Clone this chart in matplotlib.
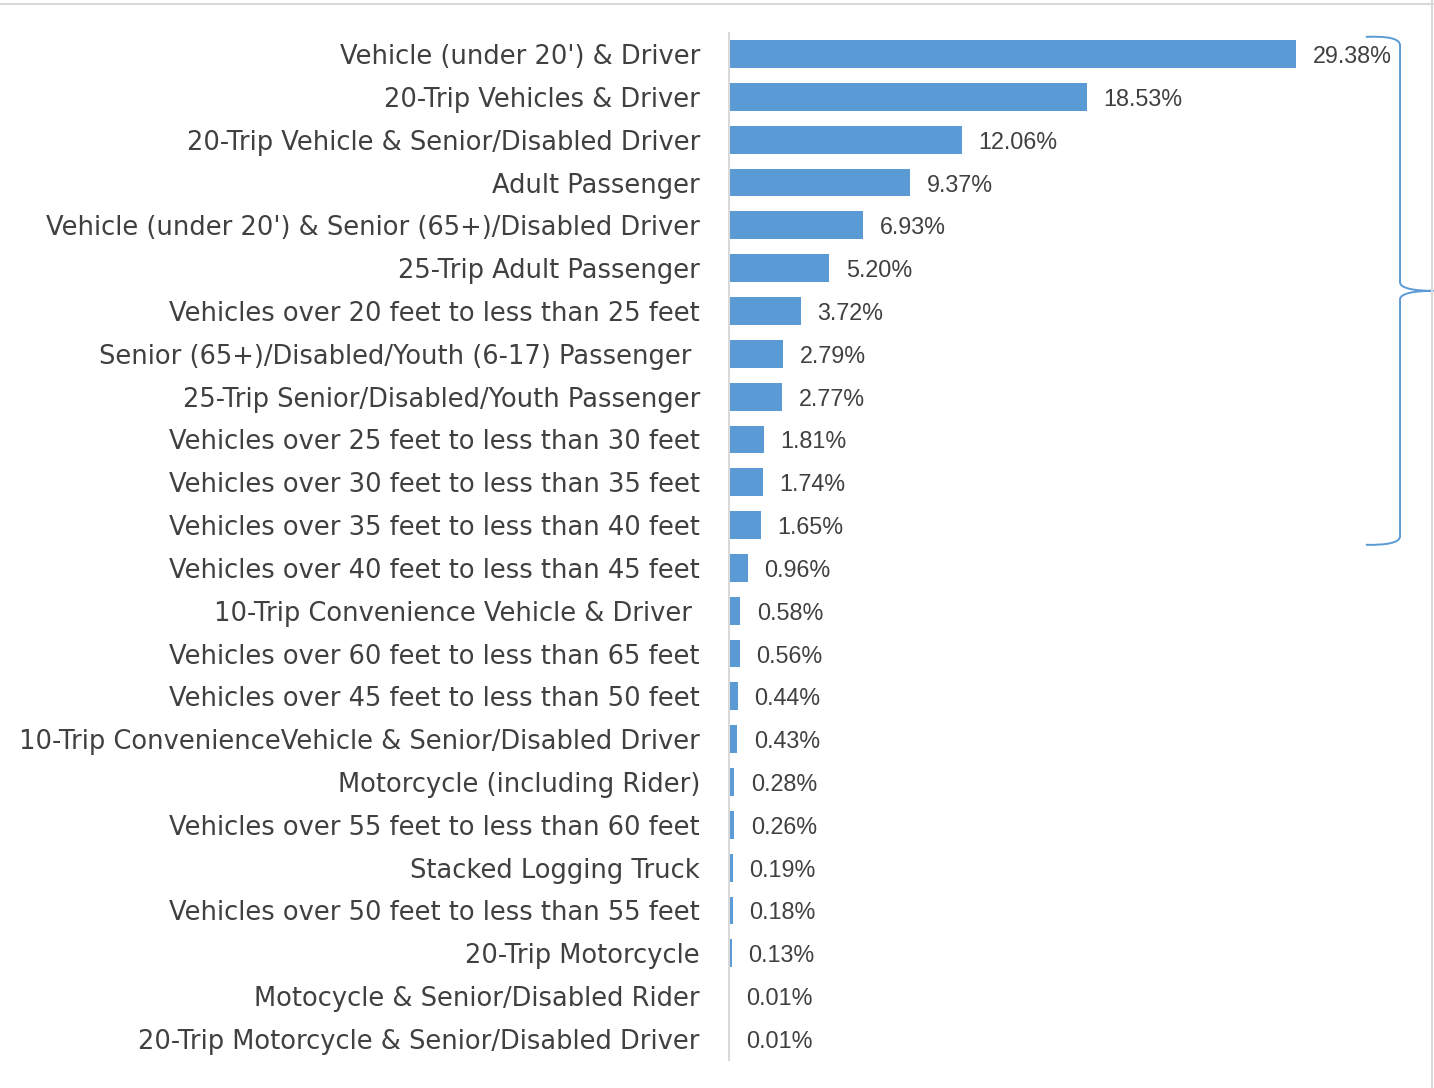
"""Horizontal bar chart of ticket type shares, with a brace over the top group."""
import matplotlib
matplotlib.use("Agg")
import matplotlib.pyplot as plt
from matplotlib.path import Path
from matplotlib.patches import PathPatch
from matplotlib.lines import Line2D

categories = [
    "Vehicle (under 20') & Driver",
    "20-Trip Vehicles & Driver",
    "20-Trip Vehicle & Senior/Disabled Driver",
    "Adult Passenger",
    "Vehicle (under 20') & Senior (65+)/Disabled Driver",
    "25-Trip Adult Passenger",
    "Vehicles over 20 feet to less than 25 feet",
    "Senior (65+)/Disabled/Youth (6-17) Passenger ",
    "25-Trip Senior/Disabled/Youth Passenger",
    "Vehicles over 25 feet to less than 30 feet",
    "Vehicles over 30 feet to less than 35 feet",
    "Vehicles over 35 feet to less than 40 feet",
    "Vehicles over 40 feet to less than 45 feet",
    "10-Trip Convenience Vehicle & Driver ",
    "Vehicles over 60 feet to less than 65 feet",
    "Vehicles over 45 feet to less than 50 feet",
    "10-Trip ConvenienceVehicle & Senior/Disabled Driver",
    "Motorcycle (including Rider)",
    "Vehicles over 55 feet to less than 60 feet",
    "Stacked Logging Truck",
    "Vehicles over 50 feet to less than 55 feet",
    "20-Trip Motorcycle",
    "Motocycle & Senior/Disabled Rider",
    "20-Trip Motorcycle & Senior/Disabled Driver",
]
shares = [29.38, 18.53, 12.06, 9.37, 6.93, 5.20, 3.72, 2.79, 2.77, 1.81,
          1.74, 1.65, 0.96, 0.58, 0.56, 0.44, 0.43, 0.28, 0.26, 0.19,
          0.18, 0.13, 0.01, 0.01]
brace_rows = (0, 11)     # rows grouped by the brace

BAR_COLOR = "#5B9BD5"
TEXT_COLOR = "#404040"

fig = plt.figure(figsize=(14.34, 10.88), dpi=100)
ax = fig.add_axes([0.5084, 0.0254, 0.4710, 0.9446])

y = list(range(len(categories)))
ax.barh(y, shares, height=0.65, color=BAR_COLOR)
ax.set_ylim(len(categories) - 0.5, -0.5)
ax.set_xlim(0, 35)

# value labels
for i, v in enumerate(shares):
    ax.annotate("{:.2f}%".format(v), (v, i), xytext=(12, 0),
                textcoords="offset points", va="center_baseline", ha="left",
                fontsize=16.8, color=TEXT_COLOR, family="Liberation Sans")

ax.set_yticks(y)
ax.set_yticklabels(categories, fontsize=18.5, color=TEXT_COLOR,
                   family="DejaVu Sans")
ax.tick_params(axis="y", length=0, pad=21)
ax.set_xticks([])
for side in ["top", "right", "bottom"]:
    ax.spines[side].set_visible(False)
ax.spines["left"].set_color("#d9d9d9")
ax.spines["left"].set_linewidth(1.5)

# curly brace on the right
top, bot = brace_rows[0] - 0.4, brace_rows[1] + 0.46
mid = (top + bot) / 2
xl, xv, xt = 33.0, 34.77, 36.5
verts = [(xl, top), (34.0, top - 0.02), (xv, top + 0.02), (xv, top + 0.2),
         (xv, mid - 0.2),
         (xv, mid - 0.06), (35.5, mid), (xt, mid),
         (35.5, mid), (xv, mid + 0.06), (xv, mid + 0.2),
         (xv, bot - 0.2),
         (xv, bot - 0.04), (34.0, bot + 0.01), (xl, bot)]
codes = [Path.MOVETO, Path.CURVE4, Path.CURVE4, Path.CURVE4,
         Path.LINETO,
         Path.CURVE4, Path.CURVE4, Path.CURVE4,
         Path.CURVE4, Path.CURVE4, Path.CURVE4,
         Path.LINETO,
         Path.CURVE4, Path.CURVE4, Path.CURVE4]
ax.add_patch(PathPatch(Path(verts, codes), facecolor="none",
                       edgecolor=BAR_COLOR, linewidth=1.4, clip_on=False))

# light frame at top and right of the chart area
fig.add_artist(Line2D([0, 1], [0.9965, 0.9965], color="#d9d9d9", linewidth=1.5))
fig.add_artist(Line2D([0.9985, 0.9985], [0, 1], color="#d9d9d9", linewidth=1.5))

plt.savefig("out.png", dpi=100)
